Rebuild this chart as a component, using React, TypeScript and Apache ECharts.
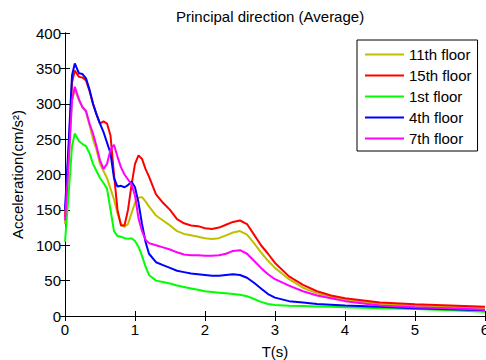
import React, { useEffect, useRef } from "react";
import * as echarts from "echarts";

const T = [0, 0.05, 0.1, 0.14, 0.2, 0.25, 0.3, 0.35, 0.4, 0.45, 0.5, 0.55, 0.6, 0.65, 0.7, 0.75, 0.8, 0.85, 0.9, 0.95, 1.0, 1.05, 1.1, 1.15, 1.2, 1.3, 1.4, 1.5, 1.6, 1.7, 1.8, 1.9, 2.0, 2.1, 2.2, 2.3, 2.4, 2.5, 2.6, 2.7, 2.8, 2.9, 3.0, 3.2, 3.4, 3.6, 3.8, 4.0, 4.5, 5.0, 5.5, 6.0];

const floor11 = [130, 215, 305, 320, 305, 295, 288, 270, 250, 235, 215, 205, 195, 180, 165, 145, 130, 126, 130, 145, 160, 167, 168, 162, 155, 142, 135, 128, 120, 116, 114, 112, 110, 109, 110, 114, 118, 120, 115, 103, 90, 78, 68, 52, 40, 32, 27, 23, 17, 14.5, 13, 11];
const floor15 = [140, 230, 330, 347, 338, 337, 333, 318, 300, 285, 272, 275, 272, 255, 200, 150, 128, 128, 150, 185, 215, 227, 222, 208, 197, 172, 160, 150, 137, 131, 128, 127, 124, 123, 125, 129, 133, 135, 130, 115, 100, 88, 75, 56, 44, 35, 29, 25, 19, 16.5, 15, 13];
const floor1 = [105, 170, 240, 258, 247, 243, 240, 230, 215, 205, 195, 188, 180, 150, 120, 113, 112, 110, 109, 110, 106, 98, 85, 70, 58, 50, 48, 46, 43, 41, 39, 37, 35, 34, 33, 32, 31, 30, 28, 24, 20, 17, 15.5, 14.5, 14, 13.5, 13, 12.5, 11, 10, 8, 6];
const floor4 = [150, 240, 340, 357, 343, 342, 336, 320, 300, 285, 272, 260, 245, 230, 195, 183, 184, 182, 185, 190, 182, 160, 130, 105, 88, 76, 72, 68, 64, 62, 60, 59, 58, 57, 57, 58, 59, 58, 54, 47, 39, 31, 26, 21, 19, 17, 16, 15, 13, 11, 9.5, 8];
const floor7 = [135, 215, 305, 324, 306, 295, 290, 272, 258, 240, 220, 208, 215, 235, 242, 225, 210, 200, 193, 186, 170, 138, 120, 108, 103, 100, 97, 94, 90, 87, 86, 86, 85, 85, 86, 88, 92, 93, 88, 78, 68, 59, 52, 43, 35, 29, 25, 21, 15, 12.5, 11, 9];

const seriesNames = ["11th floor", "15th floor", "1st floor", "4th floor", "7th floor"];
const seriesValues = [floor11, floor15, floor1, floor4, floor7];
const seriesColors = ["#bfbf00", "#ff0000", "#00ff00", "#0000ff", "#ff00ff"];

const FONT = "Liberation Sans, Arial, sans-serif";

export default function App() {
  const ref = useRef<HTMLDivElement>(null);
  useEffect(() => {
    document.body.style.margin = "0";
    const chart = echarts.init(ref.current!, null, { renderer: "svg", width: 486, height: 360 });
    const axisLine = { show: true, lineStyle: { color: "#000", width: 1 } };
    const tick = { show: true, inside: true, length: 5, lineStyle: { color: "#000" } };
    chart.setOption({
      animation: false,
      backgroundColor: "#fff",
      textStyle: { fontFamily: FONT },
      title: {
        text: "Principal direction (Average)",
        left: 176,
        top: 9,
        padding: 0,
        textStyle: { fontSize: 15, fontWeight: "normal", color: "#000", fontFamily: FONT },
      },
      grid: { left: 65, right: 1, top: 33, bottom: 44, containLabel: false, outerBoundsMode: "none" },
      legend: {
        orient: "vertical",
        left: 357,
        top: 40,
        padding: [7, 6, 5, 8],
        icon: "rect",
        itemWidth: 39,
        itemHeight: 2,
        itemGap: 6,
        borderColor: "#000",
        borderWidth: 1,
        backgroundColor: "#fff",
        textStyle: { fontSize: 15, color: "#000", fontFamily: FONT, lineHeight: 15 },
        data: seriesNames,
      },
      xAxis: [
        {
          type: "value",
          min: 0,
          max: 6,
          interval: 1,
          position: "bottom",
          axisLine,
          axisTick: tick,
          splitLine: { show: false },
          axisLabel: { fontSize: 15, color: "#000", margin: 6, fontFamily: FONT },
          name: "T(s)",
          nameLocation: "middle",
          nameGap: 28,
          nameTextStyle: { fontSize: 15, color: "#000", fontFamily: FONT },
        },
        {
          type: "value",
          min: 0,
          max: 6,
          interval: 1,
          position: "top",
          axisLine,
          axisTick: tick,
          splitLine: { show: false },
          axisLabel: { show: false },
        },
      ],
      yAxis: [
        {
          type: "value",
          min: 0,
          max: 400,
          interval: 50,
          position: "left",
          axisLine,
          axisTick: tick,
          splitLine: { show: false },
          axisLabel: { fontSize: 15, color: "#000", margin: 4, fontFamily: FONT },
          name: "Acceleration(cm/s²)",
          nameLocation: "middle",
          nameGap: 37,
          nameTextStyle: { fontSize: 15, color: "#000", fontFamily: FONT },
        },
        {
          type: "value",
          min: 0,
          max: 400,
          interval: 50,
          position: "right",
          axisLine,
          axisTick: tick,
          splitLine: { show: false },
          axisLabel: { show: false },
        },
      ],
      series: seriesNames.map((name, i) => ({
        name,
        type: "line",
        xAxisIndex: 0,
        yAxisIndex: 0,
        symbol: "none",
        showSymbol: false,
        color: seriesColors[i],
        lineStyle: { width: 2, color: seriesColors[i] },
        data: T.map((t, j) => [t, seriesValues[i][j]]),
      })),
    });
    return () => chart.dispose();
  }, []);
  return <div ref={ref} style={{ position: "fixed", left: 0, top: 0, width: 486, height: 360 }} />;
}
